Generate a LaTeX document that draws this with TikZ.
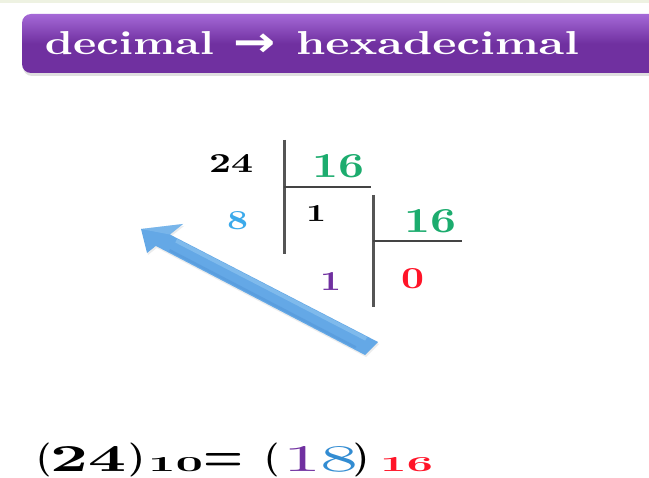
\documentclass[tikz,border=0pt]{standalone}
\usepackage{graphicx}
\usepackage{fontspec}
\newfontfamily\arrowfont{DejaVu Sans}
\usetikzlibrary{shadows}
\definecolor{bannerpurple}{RGB}{112,48,160}
\definecolor{bannerlight}{RGB}{165,105,215}
\definecolor{topstrip}{RGB}{238,242,226}
\definecolor{divgreen}{RGB}{28,172,110}
\definecolor{digblue}{RGB}{60,170,235}
\definecolor{digpurple}{RGB}{112,48,160}
\definecolor{digred}{RGB}{255,20,40}
\definecolor{bluedark}{RGB}{50,140,210}
\definecolor{arrowmain}{RGB}{100,168,230}
\definecolor{arrowlight}{RGB}{150,202,242}
\definecolor{arrowdark}{RGB}{70,135,205}
\definecolor{divline}{RGB}{85,85,85}
\tikzset{
  txt/.style={anchor=base west, inner sep=0pt, outer sep=0pt},
  vbar/.style={draw=divline, line width=3pt},
  hbar/.style={draw=divline!80!black, line width=2pt},
}
\begin{document}
\begin{tikzpicture}[x=1pt,y=-1pt]
\useasboundingbox (0,0) rectangle (649,478);
\fill[white] (0,0) rectangle (649,478);
\fill[topstrip] (0,0) rectangle (649,3);
% banner
\shade[rounded corners=9pt, top color=bannerlight, bottom color=bannerpurple, middle color=bannerpurple,
  drop shadow={opacity=0.25, shadow xshift=1pt, shadow yshift=-3pt}]
  (22,14) rectangle (680,73);
\node[txt, text=white] (title1) at (45,55) {\resizebox{169pt}{23pt}{\bfseries decimal}};
\node[txt, text=white] (titlearrow) at (233,57) {\scalebox{1.2}[1]{\fontsize{42}{42}\selectfont\arrowfont\bfseries →}};
\node[txt, text=white] (title2) at (296,55) {\resizebox{283pt}{23pt}{\bfseries hexadecimal}};
% division lines
\coordinate (v1t) at (284,140); \coordinate (v1b) at (284,254);
\coordinate (h1r) at (371,187); \coordinate (h1l) at (284,187);
\coordinate (v2t) at (373,195); \coordinate (v2b) at (373,307);
\coordinate (h2r) at (462,241); \coordinate (h2l) at (373,241);
\draw[vbar] (v1t) -- (v1b);
\draw[hbar] (h1l) -- (h1r);
\draw[vbar] (v2t) -- (v2b);
\draw[hbar] (h2l) -- (h2r);
% digits
\node[txt] (n24) at (209,173) {\resizebox{44pt}{18pt}{\bfseries 24}};
\node[txt, text=divgreen] (d16a) at (312,178) {\resizebox{52pt}{23pt}{\bfseries 16}};
\node[txt, text=digblue] (r8) at (227,230) {\resizebox{21pt}{18pt}{\bfseries 8}};
\node[txt] (q1) at (306,222) {\resizebox{20pt}{16pt}{\bfseries 1}};
\node[txt, text=divgreen] (d16b) at (404,233) {\resizebox{52pt}{23pt}{\bfseries 16}};
\node[txt, text=digpurple] (r1) at (320,291) {\resizebox{21pt}{18pt}{\bfseries 1}};
\node[txt, text=digred] (q0) at (401,289) {\resizebox{23pt}{20pt}{\bfseries 0}};
% arrow
\fill[arrowmain, drop shadow={opacity=0.15, shadow xshift=1pt, shadow yshift=-2pt}]
  (141,229) -- (183,224) -- (169.9,234.5) -- (378,342) -- (365,355) -- (155.8,245.9) -- (147,253) -- cycle;
\draw[arrowlight, line width=4pt, line cap=butt, opacity=0.55] (176.2,240.7) -- (366.1,338.8);
\draw[arrowdark, line width=2.5pt, line cap=butt, opacity=0.3] (169.5,250.2) -- (355.8,347.4);
\fill[arrowlight, opacity=0.4] (141,229) -- (183,224) -- (169.9,234.5) -- cycle;
% bottom formula
\node[txt] (lpa) at (36,469) {\resizebox*{15pt}{34pt}{\bfseries(}};
\node[txt] (n24b) at (50,472) {\resizebox{76pt}{25pt}{\bfseries 24}};
\node[txt] (rpa) at (128,469) {\resizebox*{17pt}{34pt}{\bfseries)}};
\node[txt] (base10) at (148,472) {\resizebox{55pt}{14pt}{\bfseries 10}};
\node[txt] (eq) at (203,471) {\resizebox{40pt}{17pt}{\bfseries =}};
\node[txt] (lpb) at (264,469) {\resizebox*{15pt}{34pt}{\bfseries(}};
\node[txt] (n18) at (283,472) {\resizebox{76pt}{25pt}{\textcolor{digpurple}{1}\textcolor{bluedark}{8}}};
\node[txt] (rpb) at (353,469) {\resizebox*{16pt}{34pt}{\bfseries)}};
\node[txt, text=digred] (base16) at (380,472) {\resizebox{53pt}{14pt}{\bfseries 16}};
\end{tikzpicture}
\end{document}
